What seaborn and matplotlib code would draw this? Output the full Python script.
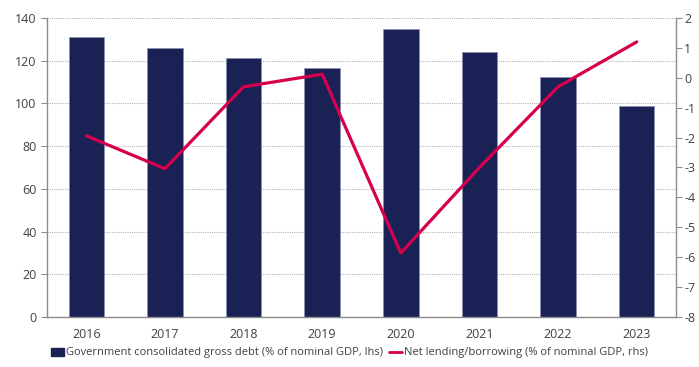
import matplotlib
matplotlib.use("Agg")
import matplotlib.pyplot as plt
import seaborn as sns
import pandas as pd
from matplotlib.patches import Patch
from matplotlib.lines import Line2D

years = ["2016", "2017", "2018", "2019", "2020", "2021", "2022", "2023"]
gross_debt = [131.3, 125.9, 121.3, 116.6, 134.8, 124.2, 112.2, 98.6]
net_lending = [-1.94, -3.04, -0.3, 0.12, -5.86, -3.0, -0.3, 1.2]

debt_label = "Government consolidated gross debt (% of nominal GDP, lhs)"
net_label = "Net lending/borrowing (% of nominal GDP, rhs)"

bar_col = "#1a2155"
line_col = "#d6004c"
grey = "#8c8c8c"
txt = "#404040"

sns.set_style("white")
plt.rcParams["font.family"] = ["Open Sans", "DejaVu Sans"]
plt.rcParams["axes.unicode_minus"] = False

df = pd.DataFrame({"year": years, "debt": gross_debt, "net": net_lending})

fig = plt.figure(figsize=(6.99, 3.67), dpi=100)
ax = fig.add_axes([47 / 699, 1 - 317 / 367, (676 - 47) / 699, (317 - 18) / 367])

sns.barplot(data=df, x="year", y="debt", color=bar_col, width=0.45,
            edgecolor="#8a8fb0", linewidth=0.6, saturation=1, ax=ax, zorder=2)
ax.set_ylim(0, 140)
ax.set_yticks(range(0, 141, 20))
ax.set_xlim(-0.5, 7.5)
ax.set_xlabel("")
ax.set_ylabel("")
ax.yaxis.grid(True, linestyle=(0, (1, 1)), color="#b5b5b5", linewidth=0.8, zorder=0)
ax.set_axisbelow(True)

ax2 = ax.twinx()
sns.lineplot(data=df, x="year", y="net", color=line_col, linewidth=2.3, ax=ax2,
             sort=False, zorder=3)
ax2.set_ylim(-8, 2)
ax2.set_yticks(range(-8, 3))
ax2.set_ylabel("")
ax2.set_xlim(-0.5, 7.5)

for a in (ax, ax2):
    a.spines["top"].set_visible(False)
    for s in ("left", "right", "bottom"):
        a.spines[s].set_color(grey)
        a.spines[s].set_linewidth(1.0)
    a.tick_params(axis="y", colors=grey, labelcolor=txt, labelsize=9, length=4, width=0.8)
ax.spines["right"].set_visible(False)
ax2.spines["left"].set_visible(False)
ax2.spines["bottom"].set_visible(False)
ax2.tick_params(axis="y", pad=2)

# category ticks sit between bars
ax.tick_params(axis="x", which="major", length=0, labelsize=9, labelcolor=txt, pad=8)
ax.set_xticks([i - 0.5 for i in range(len(years) + 1)], minor=True)
ax.tick_params(axis="x", which="minor", length=4, color=grey, width=0.8)

handles = [Patch(facecolor=bar_col, edgecolor=bar_col, label=debt_label),
           Line2D([], [], color=line_col, linewidth=2, label=net_label)]
fig.legend(handles=handles, loc="center", bbox_to_anchor=(0.5, 1 - 353 / 367),
           ncol=2, frameon=False, fontsize=8, handlelength=1.2, handletextpad=0.2,
           columnspacing=0.5, labelcolor=txt)

fig.savefig("out.png", dpi=100)
